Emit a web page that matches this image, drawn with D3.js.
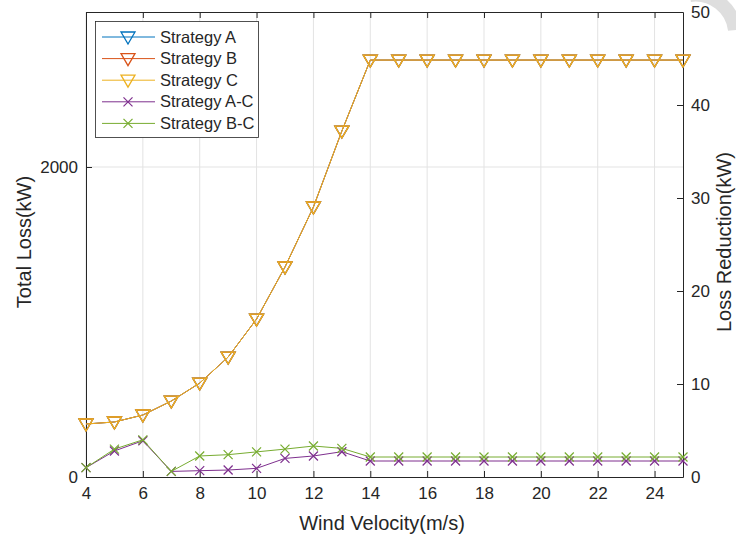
<!DOCTYPE html>
<html><head><meta charset="utf-8">
<script src="https://cdn.jsdelivr.net/npm/d3@7"></script>
<style>body{margin:0;background:#fff}svg{display:block}text{font-family:"Liberation Sans",Arial,sans-serif;fill:#262626}</style>
</head><body><svg id="c" width="736" height="541"></svg>
<script>
const wind = [4,5,6,7,8,9,10,11,12,13,14,15,16,17,18,19,20,21,22,23,24,25];
const totalA = [342,355,400,490,606,774,1019,1355,1742,2232,2690,2690,2690,2690,2690,2690,2690,2690,2690,2690,2690,2690];
const totalB = [342,355,400,490,606,774,1019,1355,1742,2232,2690,2690,2690,2690,2690,2690,2690,2690,2690,2690,2690,2690];
const totalC = [342,355,400,490,606,774,1019,1355,1742,2232,2690,2690,2690,2690,2690,2690,2690,2690,2690,2690,2690,2690];
const redAC = [1.0,2.8,3.9,0.6,0.68,0.75,0.93,2.0,2.26,2.72,1.72,1.72,1.72,1.72,1.72,1.72,1.72,1.72,1.72,1.72,1.72,1.72];
const redBC = [1.0,3.0,4.0,0.6,2.26,2.4,2.7,3.0,3.33,3.08,2.15,2.15,2.15,2.15,2.15,2.15,2.15,2.15,2.15,2.15,2.15,2.15];
const xTicks = [4,6,8,10,12,14,16,18,20,22,24];
const leftTicks = [0,2000];
const rightTicks = [0,10,20,30,40,50];
const names = ["Strategy A","Strategy B","Strategy C","Strategy A-C","Strategy B-C"];
const colors = ["#0072BD","#D95319","#EDB120","#7E2F8E","#77AC30"];

const svg = d3.select("#c");
const L=86,R=683,T=12,B=477;
const x = d3.scaleLinear().domain([4,25]).range([L,R]);
const yL = d3.scaleLinear().domain([0,3000]).range([B,T]);
const yR = d3.scaleLinear().domain([0,50]).range([B,T]);

// grid
const g = svg.append("g");
g.selectAll(".vg").data(xTicks).join("line").attr("x1",d=>x(d)).attr("x2",d=>x(d)).attr("y1",T).attr("y2",B).attr("stroke","#e3e3e3");
g.selectAll(".hg").data(leftTicks.filter(d=>d>0)).join("line").attr("x1",L).attr("x2",R).attr("y1",d=>yL(d)).attr("y2",d=>yL(d)).attr("stroke","#e3e3e3");

// watermark-ish faint arc
svg.append("path").attr("d","M690,-5 A40,40 0 0 1 735,30").attr("fill","none").attr("stroke","#dedede").attr("stroke-width",14);

// axes
const xb = svg.append("g").attr("transform",`translate(0,${B})`).call(d3.axisBottom(x).tickValues(xTicks).tickSize(-6).tickPadding(10).tickSizeOuter(0));
const xt = svg.append("g").attr("transform",`translate(0,${T})`).call(d3.axisTop(x).tickValues(xTicks).tickSize(-6).tickFormat("").tickSizeOuter(0));
const yl = svg.append("g").attr("transform",`translate(${L},0)`).call(d3.axisLeft(yL).tickValues(leftTicks).tickFormat(d3.format("d")).tickSize(-6).tickPadding(8).tickSizeOuter(0));
const yr = svg.append("g").attr("transform",`translate(${R},0)`).call(d3.axisRight(yR).tickValues(rightTicks).tickSize(-6).tickPadding(8).tickSizeOuter(0));
[xb,xt,yl,yr].forEach(a=>{a.attr("font-size",null).attr("font-family",null);a.select(".domain").attr("stroke","#262626");a.selectAll(".tick line").attr("stroke","#262626");a.selectAll("text").style("font-size","17px").attr("fill","#262626");});

// lines
const lineL = d3.line().x((d,i)=>x(wind[i])).y(d=>yL(d));
const lineR = d3.line().x((d,i)=>x(wind[i])).y(d=>yR(d));
function triPath(cx,cy){return `M${cx-7},${cy-5}L${cx+7},${cy-5}L${cx},${cy+7}Z`;}
const top3 = [totalA,totalB,totalC];
top3.forEach((s,k)=>{
  svg.append("path").attr("d",lineL(s)).attr("fill","none").attr("stroke",colors[k]).attr("stroke-width",1);
  svg.append("g").selectAll("path").data(s).join("path").attr("d",(d,i)=>triPath(x(wind[i]),yL(d))).attr("fill","none").attr("stroke",colors[k]).attr("stroke-width",1.3);
});
function cross(cx,cy){const r=4.5;return `M${cx-r},${cy-r}L${cx+r},${cy+r}M${cx-r},${cy+r}L${cx+r},${cy-r}`;}
[[redAC,3],[redBC,4]].forEach(([s,k])=>{
  svg.append("path").attr("d",lineR(s)).attr("fill","none").attr("stroke",colors[k]).attr("stroke-width",1);
  svg.append("g").selectAll("path").data(s).join("path").attr("d",(d,i)=>cross(x(wind[i]),yR(d))).attr("fill","none").attr("stroke",colors[k]).attr("stroke-width",1.2);
});

// axis labels
svg.append("text").attr("x",382).attr("y",530).attr("text-anchor","middle").style("font-size","20px").text("Wind Velocity(m/s)");
svg.append("text").attr("transform","translate(31,242) rotate(-90)").attr("text-anchor","middle").style("font-size","20px").text("Total Loss(kW)");
svg.append("text").attr("transform","translate(731,242) rotate(-90)").attr("text-anchor","middle").style("font-size","20px").text("Loss Reduction(kW)");

// legend
const lg = svg.append("g");
lg.append("rect").attr("x",95.5).attr("y",21.5).attr("width",163).attr("height",116).attr("fill","#fff").attr("stroke","#262626").attr("stroke-width",0.8);
names.forEach((n,i)=>{
  const yy = 37 + i*21.6;
  lg.append("line").attr("x1",102).attr("x2",155).attr("y1",yy).attr("y2",yy).attr("stroke",colors[i]).attr("stroke-width",1);
  if(i<3) lg.append("path").attr("d",triPath(128,yy)).attr("fill","none").attr("stroke",colors[i]).attr("stroke-width",1.3);
  else lg.append("path").attr("d",cross(128,yy)).attr("fill","none").attr("stroke",colors[i]).attr("stroke-width",1.2);
  lg.append("text").attr("x",160).attr("y",yy+5.5).style("font-size","16.5px").text(n);
});
</script></body></html>
